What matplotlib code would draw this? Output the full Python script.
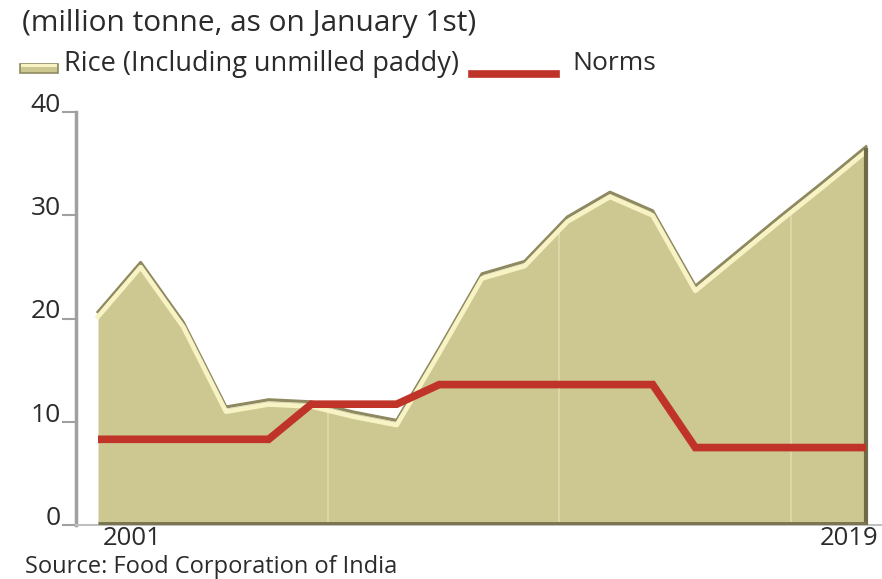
import matplotlib
matplotlib.use("Agg")
import matplotlib.pyplot as plt
import matplotlib.transforms as mtrans
from matplotlib.patches import Rectangle
from matplotlib.lines import Line2D

# Data (million tonne, as on January 1st)
years = list(range(2001, 2020))
rice = [20.5, 25.3, 19.5, 11.3, 12.0, 11.8, 10.8, 10.0, 17.0, 24.2,
        25.4, 29.7, 32.1, 30.3, 23.0, 26.4, 29.8, 33.1, 36.5]
norms = [8.3, 8.3, 8.3, 8.3, 8.3, 11.7, 11.7, 11.7, 13.6, 13.6,
         13.6, 13.6, 13.6, 13.6, 7.5, 7.5, 7.5, 7.5, 7.5]
y_ticks = [0, 10, 20, 30, 40]
x_labels = ["2001", "2019"]
grid_years = [2006.4, 2011.8, 2017.25]

fill_col = "#cdc791"
dark_col = "#8f8960"
light_col = "#f8f3c4"
red_col = "#bf3328"
text_col = "#2b2b2b"

plt.rcParams["font.family"] = ["Open Sans", "DejaVu Sans"]

fig = plt.figure(figsize=(8.82, 5.79), dpi=100)
ax = fig.add_axes([76 / 882, 1 - 525 / 579, 806 / 882, (525 - 112) / 579])

# Area with a bit of 3D look
area = ax.fill_between(years, rice, 0, color=fill_col, lw=0, zorder=1)
up = mtrans.offset_copy(ax.transData, fig=fig, x=0, y=1.0, units="points")
down = mtrans.offset_copy(ax.transData, fig=fig, x=0, y=-2.4, units="points")
ax.plot(years, rice, color=dark_col, lw=2.2, transform=up, zorder=2,
        solid_joinstyle="round")
ax.plot(years, rice, color=light_col, lw=3.4, transform=down, zorder=3,
        solid_joinstyle="round")
ax.vlines(years[-1], 0, rice[-1], color="#6f6a48", lw=3, zorder=3)
ax.hlines(0, years[0], years[-1], color="#7a7550", lw=5, zorder=3)

# faint vertical guides, only visible inside the area
for g in grid_years:
    ln = ax.axvline(g, color="#e0dbae", lw=1.2, zorder=1.5)
    ln.set_clip_path(area.get_paths()[0], ax.transData)

# Norms line
ax.plot(years, norms, color=red_col, lw=5.5, zorder=4, solid_capstyle="butt",
        solid_joinstyle="miter")

ax.set_xlim(years[0] - 22 / 42.67, years[-1] + 16 / 42.67)
ax.set_ylim(0, 40)

for s in ["top", "right"]:
    ax.spines[s].set_visible(False)
ax.spines["left"].set_color("#a0a0a0")
ax.spines["left"].set_linewidth(2.5)
ax.spines["bottom"].set_color("#c0c0c0")
ax.spines["bottom"].set_linewidth(1.5)

ax.set_yticks(y_ticks)
ax.set_yticklabels([str(v) for v in y_ticks])
ax.tick_params(axis="y", length=10, width=1.5, color="#a0a0a0", pad=1,
               labelsize=19, labelcolor=text_col)
for lab in ax.get_yticklabels():
    lab.set_verticalalignment("baseline")

ax.set_xticks([years[0], years[-1]])
ax.set_xticklabels(x_labels)
ax.tick_params(axis="x", length=0, pad=1, labelsize=18.5, labelcolor=text_col)
xl = ax.get_xticklabels()
xl[0].set_horizontalalignment("left")
xl[1].set_horizontalalignment("right")
xl[0].set_transform(xl[0].get_transform() +
                    mtrans.ScaledTranslation(5 / 100, 0, fig.dpi_scale_trans))
xl[1].set_transform(xl[1].get_transform() +
                    mtrans.ScaledTranslation(12 / 100, 0, fig.dpi_scale_trans))

# Header and legend
fig.text(22 / 882, 1 - 23 / 579, "(million tonne, as on January 1st)",
         fontsize=21.5, color=text_col, va="center", ha="left")
fig.patches.append(Rectangle((20 / 882, 1 - 73 / 579), 38 / 882, 9 / 579,
                             transform=fig.transFigure, facecolor=fill_col,
                             edgecolor=dark_col, lw=1.2))
fig.patches.append(Rectangle((21 / 882, 1 - 67 / 579), 36 / 882, 3 / 579,
                             transform=fig.transFigure, facecolor=light_col,
                             lw=0))
fig.text(64 / 882, 1 - 64 / 579, "Rice (Including unmilled paddy)",
         fontsize=19.5, color=text_col, va="center", ha="left")
fig.lines.append(Line2D([472 / 882, 556 / 882], [1 - 74 / 579, 1 - 74 / 579],
                        transform=fig.transFigure, color=red_col, lw=5.5))
fig.text(572 / 882, 1 - 64 / 579, "Norms",
         fontsize=19, color=text_col, va="center", ha="left")

fig.text(25 / 882, 0, "Source: Food Corporation of India",
         fontsize=17, color=text_col, va="bottom", ha="left")

fig.savefig("out.png", dpi=100)
